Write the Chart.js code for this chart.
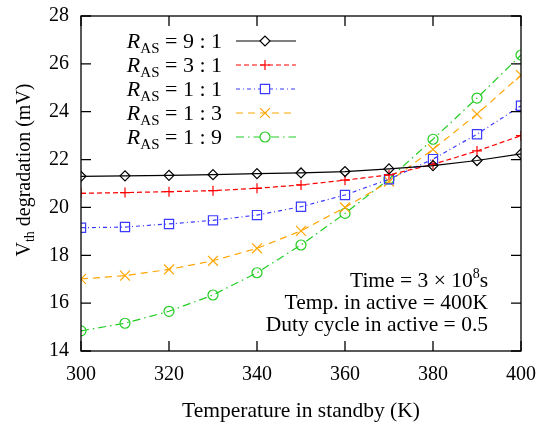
<!DOCTYPE html>
<html><head><meta charset="utf-8">
<script src="https://cdn.jsdelivr.net/npm/chart.js@4/dist/chart.umd.min.js"></script>
<style>html,body{margin:0;padding:0;background:#fff}#wrap{width:538px;height:424px}</style>
</head><body><div id="wrap"><canvas id="c" width="538" height="424"></canvas></div>
<script>
const temps = [300,310,320,330,340,350,360,370,380,390,400];
const r9_1 = [21.30,21.32,21.34,21.37,21.41,21.44,21.50,21.61,21.75,21.96,22.24];
const r3_1 = [20.59,20.62,20.66,20.70,20.80,20.94,21.14,21.36,21.80,22.36,23.00];
const r1_1 = [19.15,19.18,19.31,19.46,19.68,20.03,20.52,21.18,22.02,23.06,24.25];
const r1_3 = [17.01,17.15,17.41,17.77,18.29,19.02,20.00,21.08,22.43,23.90,25.53];
const r1_9 = [14.84,15.16,15.66,16.34,17.27,18.43,19.75,21.19,22.85,24.57,26.37];
const seriesRatios = ['9 : 1','3 : 1','1 : 1','1 : 3','1 : 9'];
const xTicks = [300,320,340,360,380,400];
const yTicks = [14,16,18,20,22,24,26,28];
const annotation = ['Time = 3 \u00d7 10|8|s','Temp. in active = 400K','Duty cycle in active = 0.5'];

const SERIF = '"Liberation Serif","DejaVu Serif",serif';
const styles = [
  {color:'#000000', dash:[], point:'rectRot', r:5},
  {color:'#ff0000', dash:[5,3], point:'cross', r:5},
  {color:'#3b3bff', dash:[4,3,1,3], point:'rect', r:6.5},
  {color:'#ffa500', dash:[7,5], point:'crossRot', r:7},
  {color:'#22cc22', dash:[8,4,1.5,4], point:'circle', r:5}
];
const all = [r9_1,r3_1,r1_1,r1_3,r1_9];
const datasets = all.map((arr,i)=>({
  label: seriesRatios[i],
  data: arr.map((v,j)=>({x:temps[j], y:v})),
  borderColor: styles[i].color,
  backgroundColor: 'rgba(0,0,0,0)',
  borderWidth: 1.2,
  borderDash: styles[i].dash,
  pointStyle: styles[i].point,
  pointRadius: styles[i].r,
  pointBorderColor: styles[i].color,
  pointBackgroundColor: 'rgba(0,0,0,0)',
  pointBorderWidth: 1.2,
  tension: 0,
  fill: false
}));

function drawRich(ctx, parts, x, y, align){
  let w = 0;
  parts.forEach(p=>{ctx.font=p.font; p.w=ctx.measureText(p.t).width; w+=p.w;});
  let cx = align==='right' ? x-w : (align==='center' ? x-w/2 : x);
  parts.forEach(p=>{ctx.font=p.font; ctx.fillText(p.t, cx, y+(p.dy||0)); cx+=p.w;});
  return w;
}

const deco = {
  id:'deco',
  afterDraw(chart){
    const ctx = chart.ctx, a = chart.chartArea;
    const xs = chart.scales.x, ys = chart.scales.y;
    ctx.save();
    ctx.strokeStyle='#000'; ctx.lineWidth=1.3; ctx.setLineDash([]);
    ctx.strokeRect(a.left, a.top, a.right-a.left, a.bottom-a.top);
    const TL=10;
    ctx.beginPath();
    xTicks.forEach(v=>{const px=xs.getPixelForValue(v);
      ctx.moveTo(px,a.bottom); ctx.lineTo(px,a.bottom-TL);
      ctx.moveTo(px,a.top); ctx.lineTo(px,a.top+TL);});
    yTicks.forEach(v=>{const py=ys.getPixelForValue(v);
      ctx.moveTo(a.left,py); ctx.lineTo(a.left+TL,py);
      ctx.moveTo(a.right,py); ctx.lineTo(a.right-TL,py);});
    ctx.stroke();
    ctx.fillStyle='#000'; ctx.textBaseline='alphabetic'; ctx.textAlign='left';
    drawRich(ctx,[{t:'Temperature in standby (K)', font:'21.5px '+SERIF}], (a.left+a.right)/2, 417, 'center');
    ctx.save();
    ctx.translate(30, 170);
    ctx.rotate(-Math.PI/2);
    drawRich(ctx,[{t:'V',font:'20px '+SERIF},{t:'th',font:'14px '+SERIF,dy:4},{t:' degradation (mV)',font:'20px '+SERIF}],0,0,'center');
    ctx.restore();
    const lx1=236, lx2=296, mx=265, tx=222;
    datasets.forEach((d,i)=>{
      const y = 41 + i*24;
      ctx.fillStyle='#000';
      drawRich(ctx,[{t:'R',font:'italic 22px '+SERIF},{t:'AS',font:'15px '+SERIF,dy:5},{t:' = '+d.label,font:'22px '+SERIF}], tx, y+7, 'right');
      ctx.strokeStyle=d.borderColor; ctx.lineWidth=1.2; ctx.setLineDash(d.borderDash);
      ctx.beginPath(); ctx.moveTo(lx1,y); ctx.lineTo(lx2,y); ctx.stroke();
      ctx.setLineDash([]);
      ctx.fillStyle='#fff';
      Chart.helpers.drawPoint(ctx,{pointStyle:d.pointStyle, radius:d.pointRadius, borderWidth:1.2}, mx, y);
    });
    ctx.fillStyle='#000';
    const ys0=[287,309,331];
    annotation.forEach((s,i)=>{
      const bits=s.split('|');
      let parts;
      if(bits.length===3) parts=[{t:bits[0],font:'21.5px '+SERIF},{t:bits[1],font:'14px '+SERIF,dy:-9},{t:bits[2],font:'21.5px '+SERIF}];
      else parts=[{t:s,font:'21.5px '+SERIF}];
      drawRich(ctx,parts,488,ys0[i],'right');
    });
    ctx.restore();
  }
};

new Chart(document.getElementById('c'),{
  type:'line',
  data:{datasets},
  options:{
    responsive:false, animation:false, devicePixelRatio:1,
    layout:{padding:{left:0,right:17,top:16,bottom:0}},
    plugins:{legend:{display:false}, tooltip:{enabled:false}},
    scales:{
      x:{type:'linear', min:300, max:400,
        afterBuildTicks(s){s.ticks=xTicks.map(v=>({value:v}));},
        afterFit(s){s.height=73; s.paddingLeft=0; s.paddingRight=0;},
        grid:{display:false, drawTicks:false}, border:{display:false},
        ticks:{font:{family:SERIF,size:20}, color:'#000', padding:12, maxRotation:0}},
      y:{type:'linear', min:14, max:28,
        afterBuildTicks(s){s.ticks=yTicks.map(v=>({value:v}));},
        afterFit(s){s.width=81; s.paddingTop=0; s.paddingBottom=0;},
        grid:{display:false, drawTicks:false}, border:{display:false},
        ticks:{font:{family:SERIF,size:20}, color:'#000', padding:12}}
    }
  },
  plugins:[deco]
});
</script></body></html>
